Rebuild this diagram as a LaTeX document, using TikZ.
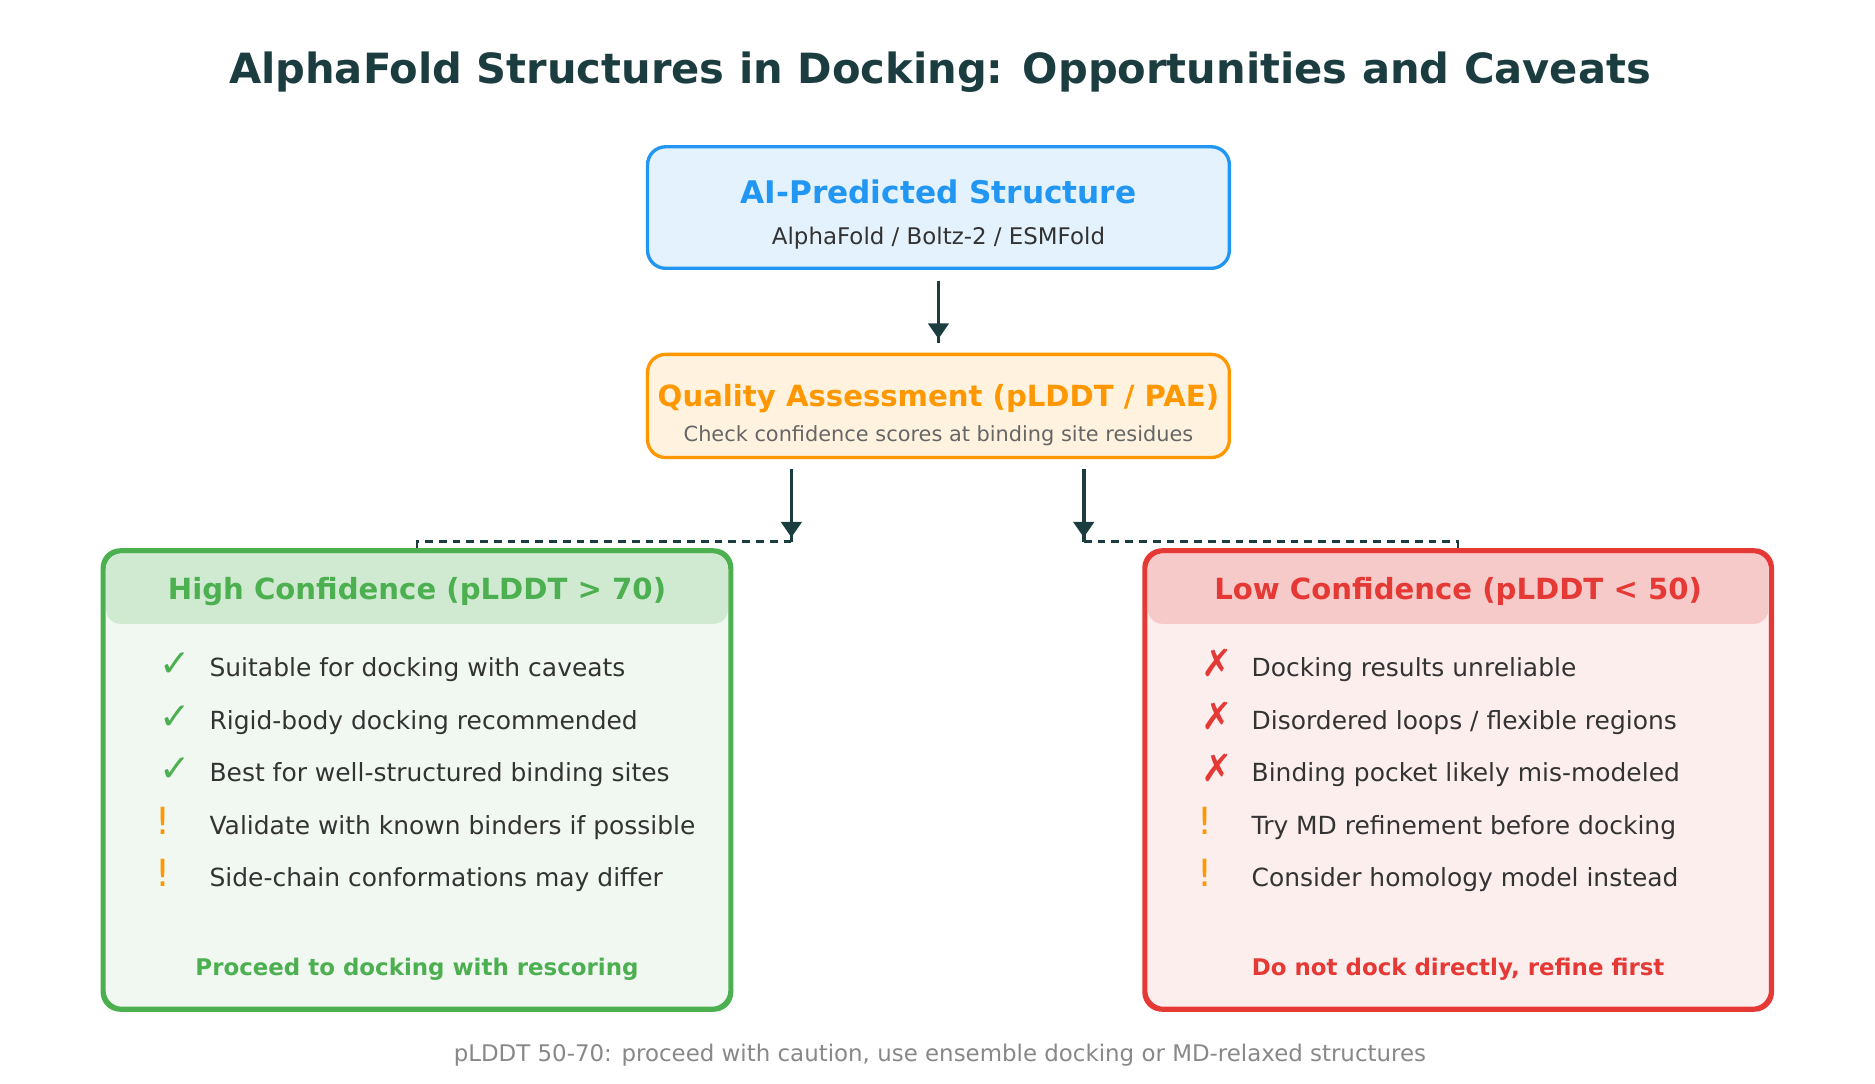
\documentclass[tikz,border=0pt]{standalone}
\usepackage{fontspec}
\setmainfont{DejaVu Sans}
\usetikzlibrary{arrows.meta}
\definecolor{ink}{HTML}{1B3D3F}
\definecolor{body}{HTML}{333333}
\definecolor{muted}{HTML}{666666}
\definecolor{faint}{HTML}{888888}
\definecolor{aiblue}{HTML}{2196F3}
\definecolor{aibluebg}{HTML}{E3F2FD}
\definecolor{qorange}{HTML}{FF9800}
\definecolor{qorangebg}{HTML}{FFF3E0}
\definecolor{okgreen}{HTML}{4CAF50}
\definecolor{okgreenbg}{HTML}{F1F8F1}
\definecolor{okgreenhd}{HTML}{D0EAD1}
\definecolor{badred}{HTML}{E53935}
\definecolor{badredbg}{HTML}{FDEEEE}
\definecolor{badredhd}{HTML}{F7CACA}
\tikzset{
  card/.style={rounded corners=15pt, line width=2.8pt, inner sep=0pt},
  txt/.style={anchor=base, inner sep=0pt},
  item/.style={anchor=base west, inner sep=0pt, text=body, font=\fontsize{20.8}{25}\selectfont},
  icon/.style={anchor=base west, inner sep=0pt, font=\fontsize{31.2}{37}\selectfont},
  stem/.style={draw=ink, line width=3pt},
  flow/.style={draw=ink, line width=3pt, shorten >=3.5pt, -{Triangle[width=17pt,length=13pt]}},
  fork/.style={draw=ink, line width=2.2pt, dash pattern=on 6.5pt off 5pt}
}
\begin{document}
\begin{tikzpicture}[x=1pt,y=-1pt]
\useasboundingbox (0,0) rectangle (1563,903);

\node[txt, text=ink, font=\bfseries\fontsize{34.7}{41}\selectfont] (T) at (783.5,69.3)
  {AlphaFold Structures in Docking: Opportunities and Caveats};

% top boxes
\node[card, draw=aiblue, fill=aibluebg, minimum width=485pt, minimum height=101.3pt] (P) at (782.3,173) {};
\node[txt, text=aiblue, font=\bfseries\fontsize{26}{31}\selectfont] (P1) at (782.3,170) {AI-Predicted Structure};
\node[txt, text=body, font=\fontsize{19.1}{23}\selectfont] (P2) at (782.3,204.2) {AlphaFold / Boltz-2 / ESMFold};

\node[card, draw=qorange, fill=qorangebg, minimum width=485pt, minimum height=86pt] (Q) at (782.3,338.4) {};
\node[txt, text=qorange, font=\bfseries\fontsize{24.3}{29}\selectfont] (Q1) at (782.3,339) {Quality Assessment (pLDDT / PAE)};
\node[txt, text=muted, font=\fontsize{17.4}{21}\selectfont] (Q2) at (782.3,368.2) {Check confidence scores at binding site residues};

% lower boxes
\node[card, draw=okgreen, fill=okgreenbg, minimum width=521.9pt, minimum height=380.8pt] (H) at (347.6,650.2) {};
\coordinate (H') at (606.8,520);
\fill[okgreenhd, rounded corners=12pt] (88.5,461.6) rectangle (H');
\draw[okgreen, line width=2.8pt, rounded corners=15pt] (H.north west) rectangle (H.south east);

\node[card, draw=badred, fill=badredbg, minimum width=521pt, minimum height=380.8pt] (L) at (1215.5,650.2) {};
\coordinate (L') at (1474.2,520);
\fill[badredhd, rounded corners=12pt] (956.8,461.6) rectangle (L');
\draw[badred, line width=2.8pt, rounded corners=15pt] (L.north west) rectangle (L.south east);

\node[txt, text=okgreen, font=\bfseries\fontsize{24.3}{29}\selectfont] (H1) at (347.6,500) {High Confidence (pLDDT > 70)};
\node[txt, text=badred, font=\bfseries\fontsize{24.3}{29}\selectfont] (L1) at (1215.5,500) {Low Confidence (pLDDT < 50)};

% high confidence list
\node[icon, text=okgreen] (Ha) at (132.9,564) {✓};
\node[item] at (174.5,564) {Suitable for docking with caveats};
\node[icon, text=okgreen] (Hb) at (132.9,607.75) {✓};
\node[item] at (174.5,607.75) {Rigid-body docking recommended};
\node[icon, text=okgreen] (Hc) at (132.9,651.5) {✓};
\node[item] at (174.5,651.5) {Best for well-structured binding sites};
\node[icon, text=qorange] (Hd) at (129.7,695.25) {!};
\node[item] at (174.5,695.25) {Validate with known binders if possible};
\node[icon, text=qorange] (He) at (129.7,739) {!};
\node[item] at (174.5,739) {Side-chain conformations may differ};

% low confidence list
\node[icon, text=badred] (La) at (1001,564) {✗};
\node[item] at (1043.2,564) {Docking results unreliable};
\node[icon, text=badred] (Lb) at (1001,607.75) {✗};
\node[item] at (1043.2,607.75) {Disordered loops / flexible regions};
\node[icon, text=badred] (Lc) at (1001,651.5) {✗};
\node[item] at (1043.2,651.5) {Binding pocket likely mis-modeled};
\node[icon, text=qorange] (Ld) at (997.8,695.25) {!};
\node[item] at (1043.2,695.25) {Try MD refinement before docking};
\node[icon, text=qorange] (Le) at (997.8,739) {!};
\node[item] at (1043.2,739) {Consider homology model instead};

\node[txt, text=okgreen, font=\bfseries\fontsize{19.1}{23}\selectfont] (H2) at (347.6,813) {Proceed to docking with rescoring};
\node[txt, text=badred, font=\bfseries\fontsize{19.1}{23}\selectfont] (L2) at (1215.5,813) {Do not dock directly, refine first};

\node[txt, text=faint, font=\fontsize{19.1}{23}\selectfont] (N) at (783.5,885)
  {pLDDT 50-70: proceed with caution, use ensemble docking or MD-relaxed structures};

% connectors
\coordinate (A) at (782.3,234);
\coordinate (A') at (782.3,286);
\coordinate (B) at (659.7,391);
\coordinate (B') at (659.7,451.5);
\coordinate (C) at (903.4,391);
\coordinate (C') at (903.4,451.5);

\draw[stem] (A) -- (A');
\draw[flow] (A) -- (A');
\draw[fork] (B') -| (H.north);
\draw[fork] (C') -| (L.north);
\draw[stem] (B) -- (B');
\draw[flow] (B) -- (B');
\draw[stem] (C) -- (C');
\draw[flow] (C) -- (C');
\end{tikzpicture}
\end{document}
